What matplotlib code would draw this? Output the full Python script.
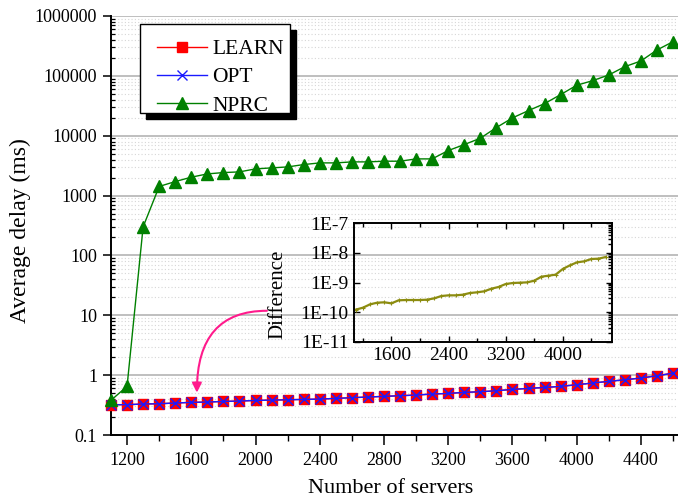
import numpy as np
import matplotlib
matplotlib.use("Agg")
import matplotlib.pyplot as plt
from matplotlib.ticker import LogLocator, FuncFormatter, MultipleLocator, NullFormatter, FixedLocator
from matplotlib.patches import Rectangle

plt.rcParams["font.family"] = ["Liberation Serif", "DejaVu Serif"]
plt.rcParams["axes.unicode_minus"] = False

# ---------------- data ----------------
servers = [1100, 1200, 1300, 1400, 1500, 1600, 1700, 1800, 1900, 2000,
           2100, 2200, 2300, 2400, 2500, 2600, 2700, 2800, 2900, 3000,
           3100, 3200, 3300, 3400, 3500, 3600, 3700, 3800, 3900, 4000,
           4100, 4200, 4300, 4400, 4500, 4600]

learn_delay = [0.321, 0.321, 0.329, 0.333, 0.342, 0.351, 0.355, 0.364, 0.369, 0.378,
               0.383, 0.388, 0.393, 0.398, 0.409, 0.420, 0.431, 0.442, 0.453, 0.465,
               0.483, 0.495, 0.515, 0.528, 0.549, 0.578, 0.600, 0.623, 0.648, 0.692,
               0.738, 0.787, 0.838, 0.894, 0.977, 1.08]

opt_delay = [0.321, 0.321, 0.329, 0.333, 0.342, 0.351, 0.355, 0.364, 0.369, 0.378,
             0.383, 0.388, 0.393, 0.398, 0.409, 0.420, 0.431, 0.442, 0.453, 0.465,
             0.483, 0.495, 0.515, 0.528, 0.549, 0.578, 0.600, 0.623, 0.648, 0.692,
             0.738, 0.787, 0.838, 0.894, 0.977, 1.08]

nprc_delay = [0.38, 0.65, 300, 1420, 1714, 2028, 2302, 2422, 2487, 2791,
              2900, 3011, 3296, 3515, 3515, 3653, 3653, 3750, 3750, 4099,
              4099, 5649, 7112, 9078, 13680, 19830, 26300, 34380, 48600, 69670,
              83200, 103500, 142500, 177300, 270700, 372300]

difference = [1.21e-10, 1.41e-10, 1.83e-10, 2.08e-10, 2.14e-10, 1.98e-10, 2.50e-10, 2.56e-10, 2.56e-10, 2.56e-10,
              2.63e-10, 2.92e-10, 3.50e-10, 3.68e-10, 3.68e-10, 3.88e-10, 4.42e-10, 4.66e-10, 5.04e-10, 6.19e-10,
              7.05e-10, 8.89e-10, 9.61e-10, 9.86e-10, 1.01e-9, 1.15e-9, 1.57e-9, 1.70e-9, 1.84e-9, 2.86e-9,
              3.80e-9, 4.80e-9, 5.19e-9, 6.22e-9, 6.38e-9, 7.24e-9]

series_labels = ["LEARN", "OPT", "NPRC"]
main_xticks = [1200, 1600, 2000, 2400, 2800, 3200, 3600, 4000, 4400]
inset_xticks = [1600, 2400, 3200, 4000]

# ---------------- figure ----------------
W, H = 678, 500
fig = plt.figure(figsize=(W / 100, H / 100), dpi=100)

def fx(px):
    return px / W

def fy(py):
    return 1 - py / H

ax = fig.add_axes([fx(111), fy(435), (678 - 111) / W, (435 - 16) / H])
ax.set_yscale("log")
ax.set_xlim(1100, 4631)
ax.set_ylim(0.1, 1e6)

l1, = ax.plot(servers, learn_delay, color="#ff0000", lw=1.0, marker="s", ms=7.5,
              mfc="#ff0000", mec="#ff0000", zorder=3, clip_on=False)
l2, = ax.plot(servers, opt_delay, color="#1a1aff", lw=1.0, marker="x", ms=7,
              mew=1.0, zorder=4, clip_on=False)
l3, = ax.plot(servers, nprc_delay, color="#008000", lw=1.0, marker="^", ms=8.5,
              mfc="#008000", mec="#008000", zorder=5, clip_on=False)

def yfmt(v, pos):
    if v >= 1:
        return f"{int(round(v))}"
    return f"{v:g}"

ax.yaxis.set_major_locator(LogLocator(base=10, numticks=20))
ax.yaxis.set_minor_locator(LogLocator(base=10, subs=np.arange(2, 10), numticks=20))
ax.yaxis.set_major_formatter(FuncFormatter(yfmt))
ax.yaxis.set_minor_formatter(NullFormatter())
ax.xaxis.set_major_locator(FixedLocator(main_xticks))
ax.xaxis.set_minor_locator(MultipleLocator(200))

ax.tick_params(axis="both", which="major", labelsize=13, width=1.1, color="black")
ax.tick_params(axis="y", which="major", direction="out", length=6, pad=4)
ax.tick_params(axis="y", which="minor", direction="in", length=3, width=0.9)
ax.tick_params(axis="x", which="major", direction="out", length=7, pad=5)
ax.tick_params(axis="x", which="minor", direction="out", length=4, width=1.0)

for s in ["top", "right"]:
    ax.spines[s].set_visible(False)
for s in ["left", "bottom"]:
    ax.spines[s].set_linewidth(1.4)

ax.set_axisbelow(True)
ax.grid(which="major", axis="y", color="#b4b4b4", lw=1.2, ls="-")
ax.grid(which="minor", axis="y", color="#d6d6d6", lw=0.8, ls=(0, (1, 2)))

ax.set_xlabel("Number of servers", fontsize=16)
ax.set_ylabel("Average delay (ms)", fontsize=17)
ax.xaxis.set_label_coords((391 - 111) / 567, (435 - 479) / 419)
ax.yaxis.set_label_coords((31 - 111) / 567, (435 - 231) / 419)

# pink arrow
ax.annotate("", xy=(1635, 0.51), xytext=(2071, 11.9),
            arrowprops=dict(arrowstyle="-|>", color="#ff1a8c", lw=1.5,
                            mutation_scale=14,
                            connectionstyle="angle3,angleA=0,angleB=90",
                            shrinkA=0, shrinkB=0), zorder=6)

# legend with custom frame + shadow
shadow = Rectangle((fx(146), fy(119)), 150 / W, 89 / H, transform=fig.transFigure,
                   facecolor="black", edgecolor="black", zorder=3)
frame = Rectangle((fx(140), fy(113)), 150 / W, 89 / H, transform=fig.transFigure,
                  facecolor="white", edgecolor="black", lw=1.0, zorder=4)
fig.add_artist(shadow)
fig.add_artist(frame)
leg = fig.legend([l1, l2, l3], series_labels, loc="upper left",
                 bbox_to_anchor=(fx(157), fy(39)), frameon=False, borderpad=0,
                 borderaxespad=0, handlelength=2.3, handletextpad=0.27,
                 labelspacing=0.38, fontsize=15.5)
leg.set_zorder(5)

# ---------------- inset ----------------
axi = fig.add_axes([fx(354), fy(341.7), (612 - 354) / W, (341.7 - 223.3) / H])
axi.set_facecolor("none")
axi.set_yscale("log")
axi.plot(servers, difference, color="#8c8c10", lw=1.6, marker="+", ms=3, mew=0.8)
axi.set_xlim(1075, 4690)
axi.set_ylim(1e-11, 1e-7)

def ifmt(v, pos):
    return f"1E{int(round(np.log10(v)))}"

axi.yaxis.set_major_locator(LogLocator(base=10, numticks=10))
axi.yaxis.set_major_formatter(FuncFormatter(ifmt))
axi.yaxis.set_minor_locator(LogLocator(base=10, subs=np.arange(2, 10), numticks=10))
axi.yaxis.set_minor_formatter(NullFormatter())
axi.xaxis.set_major_locator(FixedLocator(inset_xticks))
axi.xaxis.set_minor_locator(MultipleLocator(400))
axi.tick_params(axis="both", which="both", direction="in", top=True, right=True,
                labelsize=14, width=1.0)
axi.tick_params(axis="both", which="major", length=4, pad=4)
axi.tick_params(axis="both", which="minor", length=3)
axi.tick_params(axis="y", which="minor", left=False)
for s in axi.spines.values():
    s.set_linewidth(1.4)
axi.set_ylabel("Difference", fontsize=15)
axi.yaxis.set_label_coords((287 - 354) / 258, (341.7 - 294) / 118.4)

fig.savefig("out.png", dpi=100)
